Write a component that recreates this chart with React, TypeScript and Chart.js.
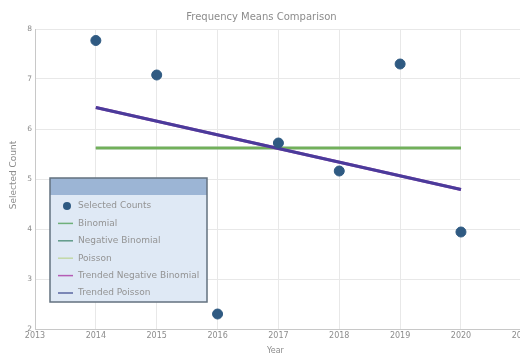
import React, { useEffect, useRef } from "react";
import { Chart, registerables } from "chart.js";

Chart.register(...registerables);

const years = [2014, 2015, 2016, 2017, 2018, 2019, 2020];
const selectedCounts = [7.77, 7.08, 2.3, 5.72, 5.16, 7.3, 3.94];
const fitYears = [2014, 2020];
const binomial = [5.62, 5.62];
const negativeBinomial = [5.62, 5.62];
const poisson = [5.62, 5.62];
const trendedNegativeBinomial = [6.43, 4.79];
const trendedPoisson = [6.43, 4.79];
const xTicks = [2013, 2014, 2015, 2016, 2017, 2018, 2019, 2020, 2021];
const yTicks = [2, 3, 4, 5, 6, 7, 8];

const FONT = "'DejaVu Sans', Verdana, sans-serif";
const TEXT = "#8c8c8c";
const TITLE = "Frequency Means Comparison";
const X_TITLE = "Year";
const Y_TITLE = "Selected Count";

const legendPlugin = {
  id: "boxLegend",
  afterDraw(chart: any) {
    const ctx = chart.ctx as CanvasRenderingContext2D;
    const ca = chart.chartArea;
    ctx.save();
    ctx.fillStyle = TEXT;
    ctx.textAlign = "center";
    ctx.textBaseline = "middle";
    ctx.font = `10px ${FONT}`;
    ctx.fillText(TITLE, (ca.left + ca.right) / 2 - 17, ca.top - 12);
    ctx.font = `8px ${FONT}`;
    ctx.fillText(X_TITLE, (ca.left + ca.right) / 2 - 3, ca.bottom + 22);
    ctx.save();
    ctx.font = `9px ${FONT}`;
    ctx.translate(14, (ca.top + ca.bottom) / 2 - 4);
    ctx.rotate(-Math.PI / 2);
    ctx.fillText(Y_TITLE, 0, 0);
    ctx.restore();

    const left = ca.left + 15;
    const top = ca.top + 149;
    const w = 157;
    const h = 124;
    ctx.fillStyle = "#dfe9f5";
    ctx.fillRect(left, top, w, h);
    ctx.fillStyle = "#9cb5d5";
    ctx.fillRect(left, top, w, 17);
    ctx.strokeStyle = "#63717f";
    ctx.lineWidth = 1.5;
    ctx.strokeRect(left, top, w, h);
    ctx.font = `9px ${FONT}`;
    ctx.textAlign = "left";
    ctx.textBaseline = "middle";
    chart.data.datasets.forEach((ds: any, i: number) => {
      const y = top + 28 + i * 17.4;
      if (ds.showLine === false) {
        ctx.beginPath();
        ctx.fillStyle = ds.backgroundColor;
        ctx.arc(left + 17, y, 4, 0, Math.PI * 2);
        ctx.fill();
      } else {
        ctx.beginPath();
        ctx.strokeStyle = ds.legendColor || ds.borderColor;
        ctx.lineWidth = 1.5;
        ctx.moveTo(left + 8, y);
        ctx.lineTo(left + 23, y);
        ctx.stroke();
      }
      ctx.fillStyle = "#939393";
      ctx.fillText(ds.label, left + 28, y);
    });
    ctx.restore();
  },
};

export default function App() {
  const ref = useRef<HTMLCanvasElement>(null);
  useEffect(() => {
    document.documentElement.style.overflow = "hidden";
    document.body.style.margin = "0";
    document.body.style.overflow = "hidden";
    if (!ref.current) return;
    const pts = (xs: number[], ys: number[]) => xs.map((x, i) => ({ x, y: ys[i] }));
    const chart = new Chart(ref.current, {
      type: "line",
      data: {
        datasets: [
          {
            label: "Selected Counts",
            type: "scatter",
            data: pts(years, selectedCounts),
            backgroundColor: "#2f5a82",
            borderColor: "#2f5a82",
            pointRadius: 5,
            showLine: false,
            order: 0,
          } as any,
          {
            label: "Binomial",
            data: pts(fitYears, binomial),
            borderColor: "#72b05a",
            legendColor: "#6fb07a",
            borderWidth: 2.5,
            pointRadius: 0,
            order: 3,
          },
          {
            label: "Negative Binomial",
            data: pts(fitYears, negativeBinomial),
            borderColor: "#6aa07e",
            legendColor: "#5f9a88",
            borderWidth: 2.5,
            pointRadius: 0,
            order: 4,
          },
          {
            label: "Poisson",
            data: pts(fitYears, poisson),
            borderColor: "#c2d9a6",
            borderWidth: 2.5,
            pointRadius: 0,
            order: 5,
          },
          {
            label: "Trended Negative Binomial",
            data: pts(fitYears, trendedNegativeBinomial),
            borderColor: "#b55cb5",
            borderWidth: 3,
            pointRadius: 0,
            order: 2,
          },
          {
            label: "Trended Poisson",
            data: pts(fitYears, trendedPoisson),
            borderColor: "#4a3b9b",
            legendColor: "#5a66a0",
            borderWidth: 3,
            pointRadius: 0,
            order: 1,
          },
        ],
      },
      options: {
        responsive: false,
        animation: false,
        layout: { padding: { left: 0, right: 0, top: 29, bottom: 0 } },
        plugins: {
          legend: { display: false },
          tooltip: { enabled: false },
          title: { display: false },
        },
        scales: {
          x: {
            type: "linear",
            min: xTicks[0],
            max: xTicks[xTicks.length - 1],
            afterBuildTicks: (s: any) => {
              s.ticks = xTicks.map((v) => ({ value: v }));
            },
            afterFit: (s: any) => {
              s.height = 27;
            },
            ticks: {
              color: TEXT,
              font: { family: FONT, size: 8 },
              padding: 2,
              maxRotation: 0,
              callback: (v: any) => String(v),
            },
            grid: { color: "#e8e8e8", drawTicks: false },
            border: { color: "#c8c8c8" },
          },
          y: {
            type: "linear",
            min: yTicks[0],
            max: yTicks[yTicks.length - 1],
            afterBuildTicks: (s: any) => {
              s.ticks = yTicks.map((v) => ({ value: v }));
            },
            afterFit: (s: any) => {
              s.width = 35;
            },
            ticks: {
              color: TEXT,
              font: { family: FONT, size: 7.5 },
              padding: 3,
            },
            grid: { color: "#e8e8e8", drawTicks: false },
            border: { color: "#c8c8c8" },
          },
        },
      },
      plugins: [legendPlugin],
    } as any);
    return () => chart.destroy();
  }, []);
  return (
    <div style={{ width: 520, height: 356, overflow: "hidden", position: "relative", background: "#fff" }}>
      <canvas ref={ref} width={534} height={356} style={{ display: "block" }} />
    </div>
  );
}
